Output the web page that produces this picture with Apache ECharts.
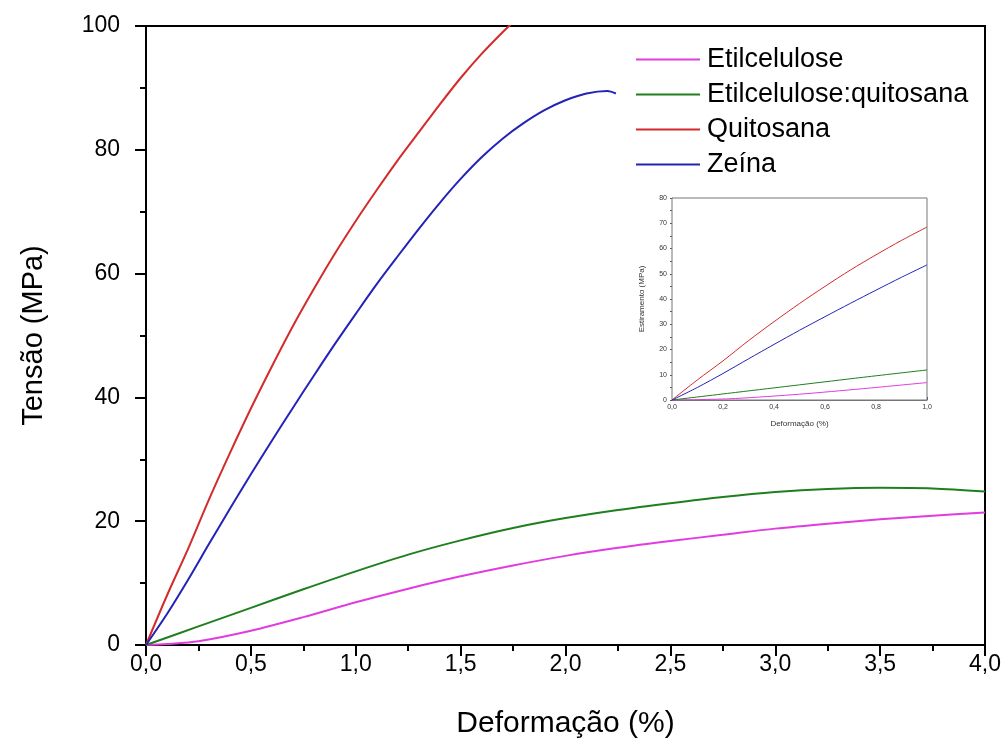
<!DOCTYPE html>
<html>
<head>
<meta charset="utf-8">
<title>Tensão x Deformação</title>
<script src="https://cdn.jsdelivr.net/npm/echarts@6/dist/echarts.min.js"></script>
<style>
  html, body { margin: 0; padding: 0; background: #fff; }
  #chart { width: 1005px; height: 742px; }
</style>
</head>
<body>
<div id="chart"></div>
<script>
// Stress–strain curves of the four films (strain in %, stress in MPa)
const seriesNames = ['Etilcelulose', 'Etilcelulose:quitosana', 'Quitosana', 'Zeína'];
const seriesColors = ['#e03ce0', '#1f7f1f', '#d42a2a', '#2323b8'];

const etilStrain = [0, 0.1, 0.25, 0.5, 0.75, 1.0, 1.25, 1.5, 1.75, 2.0, 2.25, 2.5, 2.75, 3.0, 3.25, 3.5, 3.75, 4.0];
const etilStress = [0, 0.15, 0.6, 2.3, 4.5, 6.9, 9.1, 11.1, 12.85, 14.4, 15.7, 16.8, 17.8, 18.8, 19.6, 20.3, 20.9, 21.4];

const ecqStrain = [0, 0.25, 0.5, 0.75, 1.0, 1.25, 1.5, 1.75, 2.0, 2.25, 2.5, 2.75, 3.0, 3.25, 3.5, 3.75, 4.0];
const ecqStress = [0, 3.0, 6.0, 9.0, 11.9, 14.6, 16.9, 18.9, 20.5, 21.8, 22.9, 23.9, 24.7, 25.2, 25.4, 25.3, 24.8];

const quiStrain = [0, 0.1, 0.2, 0.3, 0.4, 0.5, 0.6, 0.7, 0.8, 0.9, 1.0, 1.1, 1.2, 1.3, 1.4, 1.5, 1.6, 1.7, 1.75];
const quiStress = [0, 8.0, 15.5, 23.5, 31.0, 38.2, 45.0, 51.5, 57.5, 63.2, 68.5, 73.5, 78.3, 82.8, 87.3, 91.6, 95.5, 99.0, 100.6];

const zeiStrain = [0, 0.1, 0.2, 0.3, 0.4, 0.5, 0.6, 0.7, 0.8, 0.9, 1.0, 1.1, 1.2, 1.3, 1.4, 1.5, 1.6, 1.7, 1.8, 1.9, 2.0, 2.1, 2.2, 2.24];
const zeiStress = [0, 5.0, 10.5, 16.3, 22.0, 27.6, 33.0, 38.3, 43.5, 48.6, 53.5, 58.3, 62.8, 67.2, 71.4, 75.3, 78.8, 81.8, 84.3, 86.4, 88.0, 89.1, 89.5, 89.1];

// Tick labels (decimal comma)
const mainXTicks = ['0,0', '0,5', '1,0', '1,5', '2,0', '2,5', '3,0', '3,5', '4,0'];
const mainYTicks = ['0', '20', '40', '60', '80', '100'];
const insetXTicks = ['0,0', '0,2', '0,4', '0,6', '0,8', '1,0'];
const insetYTicks = ['0', '10', '20', '30', '40', '50', '60', '70', '80'];

const strains = [etilStrain, ecqStrain, quiStrain, zeiStrain];
const stresses = [etilStress, ecqStress, quiStress, zeiStress];

function pairs(xs, ys, maxX) {
  const out = [];
  for (let i = 0; i < xs.length; i++) {
    if (maxX === undefined || xs[i] <= maxX + 1e-9) out.push([xs[i], ys[i]]);
  }
  return out;
}

const FONT = "'Liberation Sans', Arial, sans-serif";

const mainSeries = seriesNames.map((name, i) => ({
  name: name,
  type: 'line',
  xAxisIndex: 0,
  yAxisIndex: 0,
  data: pairs(strains[i], stresses[i]),
  smooth: 0.3,
  showSymbol: false,
  symbol: 'none',
  clip: true,
  lineStyle: { color: seriesColors[i], width: 2 },
  itemStyle: { color: seriesColors[i] },
  z: 3
}));

// Zoom of the initial region (0 to 1 % strain)
const insetSeries = seriesNames.map((name, i) => ({
  name: name + ' (0–1 %)',
  type: 'line',
  xAxisIndex: 1,
  yAxisIndex: 1,
  data: pairs(strains[i], stresses[i], 1.0),
  smooth: 0.3,
  showSymbol: false,
  symbol: 'none',
  lineStyle: { color: seriesColors[i], width: 1 },
  z: 6
}));

const chart = echarts.init(document.getElementById('chart'), null, { renderer: 'canvas' });

chart.setOption({
  animation: false,
  backgroundColor: '#fff',
  textStyle: { fontFamily: FONT },
  grid: [
    { left: 146, right: 20, top: 26, bottom: 97, outerBoundsMode: 'none', containLabel: false, show: true, borderColor: '#000', borderWidth: 2, backgroundColor: 'transparent', z: 1 },
    { left: 672, top: 198, width: 255, height: 202, outerBoundsMode: 'none', containLabel: false, show: true, borderColor: '#777', borderWidth: 1, backgroundColor: '#fff', z: 5 }
  ],
  legend: {
    data: seriesNames,
    orient: 'vertical',
    left: 631,
    top: 41,
    icon: 'rect',
    itemWidth: 64,
    itemHeight: 2,
    itemGap: 8,
    textStyle: { fontFamily: FONT, fontSize: 27, color: '#000', lineHeight: 26, padding: [0, 0, 0, 2] }
  },
  xAxis: [
    {
      gridIndex: 0,
      type: 'value',
      min: 0, max: 4, interval: 0.5,
      name: 'Deformação (%)',
      nameLocation: 'middle',
      nameGap: 64,
      nameTextStyle: { fontFamily: FONT, fontSize: 30, color: '#000' },
      axisLine: { show: true, onZero: false, lineStyle: { color: '#000', width: 2 } },
      axisTick: { show: true, inside: false, length: 11, lineStyle: { color: '#000', width: 2 } },
      minorTick: { show: true, splitNumber: 2, length: 6, lineStyle: { color: '#000', width: 2 } },
      splitLine: { show: false },
      axisLabel: {
        margin: 8, fontFamily: FONT, fontSize: 23, color: '#000',
        formatter: v => mainXTicks[Math.round(v / 0.5)]
      }
    },
    {
      gridIndex: 1,
      type: 'value',
      min: 0, max: 1, interval: 0.2,
      name: 'Deformação (%)',
      nameLocation: 'middle',
      nameGap: 20,
      nameTextStyle: { fontFamily: FONT, fontSize: 8, color: '#333' },
      axisLine: { show: true, onZero: false, lineStyle: { color: '#777', width: 1 } },
      axisTick: { show: true, inside: true, length: 3, lineStyle: { color: '#555' } },
      minorTick: { show: true, splitNumber: 2, length: 2, lineStyle: { color: '#555' } },
      splitLine: { show: false },
      axisLabel: {
        margin: 4, fontFamily: FONT, fontSize: 7, color: '#333',
        formatter: v => insetXTicks[Math.round(v / 0.2)]
      }
    }
  ],
  yAxis: [
    {
      gridIndex: 0,
      type: 'value',
      min: 0, max: 100, interval: 20,
      name: 'Tensão (MPa)',
      nameLocation: 'middle',
      nameGap: 98,
      nameTextStyle: { fontFamily: FONT, fontSize: 29, color: '#000' },
      axisLine: { show: true, onZero: false, lineStyle: { color: '#000', width: 2 } },
      axisTick: { show: true, inside: false, length: 11, lineStyle: { color: '#000', width: 2 } },
      minorTick: { show: true, splitNumber: 2, length: 6, lineStyle: { color: '#000', width: 2 } },
      splitLine: { show: false },
      axisLabel: {
        margin: 26, fontFamily: FONT, fontSize: 23, color: '#000',
        formatter: v => mainYTicks[Math.round(v / 20)]
      }
    },
    {
      gridIndex: 1,
      type: 'value',
      min: 0, max: 80, interval: 10,
      name: 'Estiramento (MPa)',
      nameLocation: 'middle',
      nameGap: 26,
      nameTextStyle: { fontFamily: FONT, fontSize: 8, color: '#333' },
      axisLine: { show: true, onZero: false, lineStyle: { color: '#777', width: 1 } },
      axisTick: { show: true, inside: false, length: 2, lineStyle: { color: '#555' } },
      minorTick: { show: true, splitNumber: 2, length: 2, lineStyle: { color: '#555' } },
      splitLine: { show: false },
      axisLabel: {
        margin: 5, fontFamily: FONT, fontSize: 7, color: '#333',
        formatter: v => insetYTicks[Math.round(v / 10)]
      }
    }
  ],
  series: mainSeries.concat(insetSeries)
});
</script>
</body>
</html>
